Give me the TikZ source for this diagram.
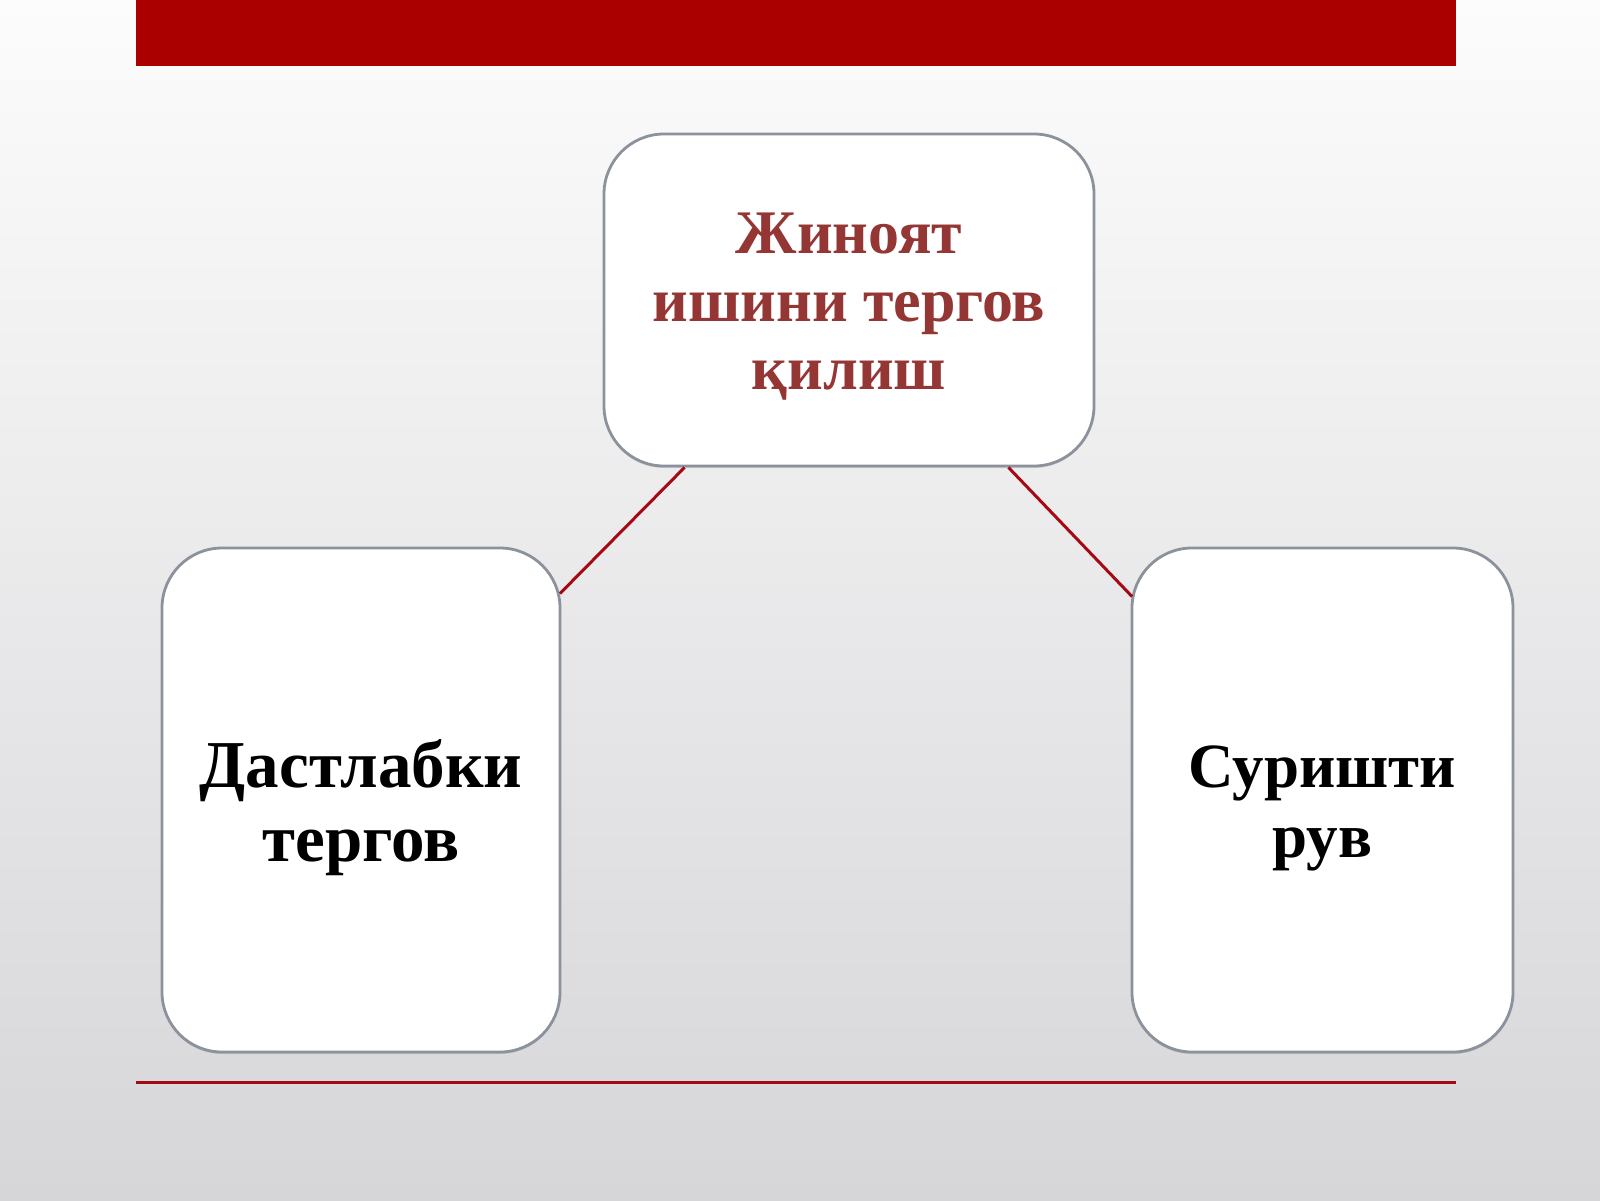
\documentclass[tikz,border=0pt]{standalone}
\usepackage{fontspec}
\setmainfont{Liberation Serif}
\usetikzlibrary{calc,shadows}
\definecolor{barred}{RGB}{170,0,0}
\definecolor{linkred}{RGB}{165,10,20}
\definecolor{boxline}{RGB}{140,146,156}
\definecolor{titlered}{RGB}{148,54,52}
\definecolor{bgtop}{RGB}{252,252,252}
\definecolor{bgbottom}{RGB}{214,214,217}
\tikzset{
  cardbox/.style={draw=boxline, line width=2.8pt, fill=white, rounded corners=60pt,
    inner sep=0pt,
    drop shadow={shadow xshift=0pt, shadow yshift=-2pt, opacity=0.12, fill=black}},
  cardtext/.style={align=center, inner sep=0pt},
  link/.style={draw=linkred, line width=3pt},
}
\begin{document}
\begin{tikzpicture}[x=1pt,y=-1pt]
\useasboundingbox (0,0) rectangle (1600,1200);
\fill[top color=bgtop, bottom color=bgbottom] (0,0) rectangle (1600,1200);
\fill[barred] (136,0) rectangle (1456,66);
\fill[linkred] (136,1080.5) rectangle (1456,1083.5);
\node[cardbox, minimum width=490pt, minimum height=332pt] (top) at (849,300) {};
\node[cardbox, minimum width=398pt, minimum height=504pt] (left) at (361,800) {};
\node[cardbox, minimum width=381pt, minimum height=504pt] (right) at (1322.5,800) {};
\node[cardtext, text=titlered, font=\bfseries\fontsize{62}{68}\selectfont]
  (toptext) at ([yshift=-7pt]top.center) {Жиноят\\ишини тергов\\қилиш};
\node[cardtext, font=\bfseries\fontsize{67}{74}\selectfont]
  (lefttext) at ([yshift=-8pt]left.center) {Дастлабки\\тергов};
\node[cardtext, font=\bfseries\fontsize{63}{70}\selectfont]
  (righttext) at ([yshift=-8pt]right.center) {Суришти\\рув};
\draw[link] ([xshift=82pt]top.south west) -- ([xshift=-1.5pt,yshift=-47pt]left.north east);
\draw[link] ([xshift=-87pt]top.south east) -- ([xshift=1.5pt,yshift=-50pt]right.north west);
\end{tikzpicture}
\end{document}
